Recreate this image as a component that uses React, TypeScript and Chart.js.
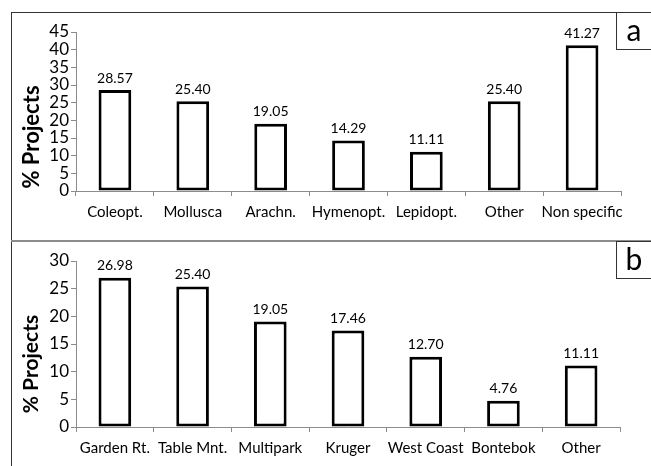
import React, { useEffect, useRef } from "react";
import { Chart, registerables } from "chart.js";

Chart.register(...registerables);

// ---- data ----
const categoriesA = ["Coleopt.", "Mollusca", "Arachn.", "Hymenopt.", "Lepidopt.", "Other", "Non specific"];
const valuesA = [28.57, 25.4, 19.05, 14.29, 11.11, 25.4, 41.27];
const yMaxA = 45;
const yStepA = 5;

const categoriesB = ["Garden Rt.", "Table Mnt.", "Multipark", "Kruger", "West Coast", "Bontebok", "Other"];
const valuesB = [26.98, 25.4, 19.05, 17.46, 12.7, 4.76, 11.11];
const yMaxB = 30;
const yStepB = 5;

const yTitle = "% Projects";
const FONT = "Lato, 'Open Sans', sans-serif";

const valueLabels = {
  id: "valueLabels",
  afterDatasetsDraw(chart: any) {
    const ctx = chart.ctx;
    const meta = chart.getDatasetMeta(0);
    const data = chart.data.datasets[0].data as number[];
    ctx.save();
    ctx.fillStyle = "#000";
    ctx.font = `14px ${FONT}`;
    ctx.textAlign = "center";
    ctx.textBaseline = "bottom";
    meta.data.forEach((bar: any, i: number) => {
      ctx.fillText(data[i].toFixed(2), bar.x, bar.y - 5);
    });
    ctx.restore();
  },
};

const yTitlePlugin = {
  id: "yTitlePlugin",
  afterDraw(chart: any) {
    const o = chart.options.plugins.yTitlePlugin;
    if (!o) return;
    const ctx = chart.ctx;
    ctx.save();
    ctx.translate(o.x, o.y);
    ctx.rotate(-Math.PI / 2);
    ctx.fillStyle = "#000";
    ctx.font = `bold ${o.size}px ${FONT}`;
    ctx.textAlign = "center";
    ctx.textBaseline = "middle";
    ctx.fillText(yTitle, 0, 0);
    ctx.restore();
  },
};

function BarPanel(props: {
  cats: string[];
  vals: number[];
  yMax: number;
  yStep: number;
  width: number;
  height: number;
  padTop: number;
  padRight: number;
  yAxisWidth: number;
  xAxisHeight: number;
  titleX: number;
  titleY: number;
  titleSize: number;
}) {
  const ref = useRef<HTMLCanvasElement>(null);
  useEffect(() => {
    const p = props;
    const chart = new Chart(ref.current!, {
      type: "bar",
      data: {
        labels: p.cats,
        datasets: [
          {
            data: p.vals,
            backgroundColor: "#ffffff",
            borderColor: "#000000",
            borderWidth: 3,
            borderSkipped: false,
            barPercentage: 0.42,
            categoryPercentage: 1,
          },
        ],
      },
      options: {
        animation: false,
        responsive: false,
        devicePixelRatio: 1,
        layout: { padding: { left: 0, right: p.padRight, top: p.padTop, bottom: 0 } },
        plugins: {
          legend: { display: false },
          tooltip: { enabled: false },
          yTitlePlugin: { x: p.titleX, y: p.titleY, size: p.titleSize },
        } as any,
        scales: {
          x: {
            offset: true,
            grid: { offset: true, drawOnChartArea: false, tickLength: 5, color: "#8c8c8c" },
            border: { display: true, color: "#8c8c8c", width: 1 },
            ticks: { color: "#000", font: { family: FONT, size: 15 }, padding: 7, maxRotation: 0, autoSkip: false },
            afterFit(scale: any) {
              scale.height = p.xAxisHeight;
            },
          },
          y: {
            min: 0,
            max: p.yMax,
            grid: { drawOnChartArea: false, tickLength: 5, color: "#8c8c8c" },
            border: { display: true, color: "#8c8c8c", width: 1 },
            ticks: { stepSize: p.yStep, color: "#000", font: { family: FONT, size: 17, lineHeight: 1 }, padding: 2, autoSkip: false },
            afterFit(scale: any) {
              scale.width = p.yAxisWidth;
            },
          },
        },
      },
      plugins: [valueLabels, yTitlePlugin],
    });
    return () => chart.destroy();
  }, []);
  return <canvas ref={ref} width={props.width} height={props.height} style={{ display: "block", width: props.width, height: props.height }} />;
}

export default function App() {
  const boxStyle: React.CSSProperties = {
    position: "absolute",
    width: 35,
    height: 38,
    border: "1px solid #333",
    borderRight: "none",
    background: "#fff",
    fontFamily: FONT,
    fontSize: 30,
    lineHeight: "32px",
    textAlign: "center",
    color: "#000",
    boxSizing: "border-box",
  };
  return (
    <div style={{ position: "fixed", left: 0, top: 0, width: 651, height: 466, background: "#fff", overflow: "hidden" }}>
      <div style={{ position: "absolute", left: 0, top: 12 }}>
        <BarPanel
          cats={categoriesA}
          vals={valuesA}
          yMax={yMaxA}
          yStep={yStepA}
          width={651}
          height={229}
          padTop={20}
          padRight={30}
          yAxisWidth={76}
          xAxisHeight={50}
          titleX={32}
          titleY={125}
          titleSize={22}
        />
      </div>
      <div style={{ position: "absolute", left: 0, top: 241 }}>
        <BarPanel
          cats={categoriesB}
          vals={valuesB}
          yMax={yMaxB}
          yStep={yStepB}
          width={651}
          height={225}
          padTop={20}
          padRight={31}
          yAxisWidth={76}
          xAxisHeight={39}
          titleX={31}
          titleY={123}
          titleSize={21}
        />
      </div>
      {/* frame lines */}
      <div style={{ position: "absolute", left: 11, top: 12, width: 640, height: 1, background: "#333" }} />
      <div style={{ position: "absolute", left: 11, top: 12, width: 1, height: 454, background: "#333" }} />
      <div style={{ position: "absolute", left: 11, top: 240, width: 640, height: 2, background: "#8c8c8c" }} />
      <div style={{ ...boxStyle, left: 616, top: 12 }}>a</div>
      <div style={{ ...boxStyle, left: 616, top: 241 }}>b</div>
    </div>
  );
}
